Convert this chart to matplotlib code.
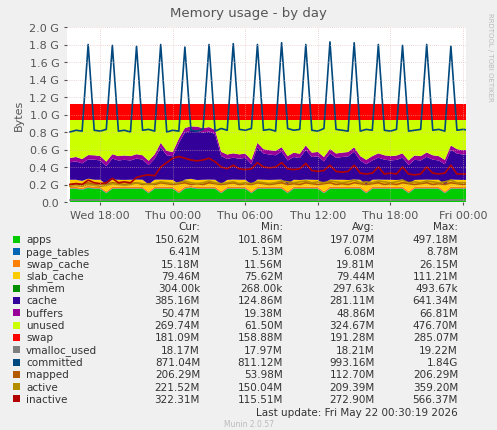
import matplotlib
matplotlib.use("Agg")
import matplotlib.pyplot as plt
import matplotlib.dates as mdates
import numpy as np
import datetime as dt

base = dt.datetime(2026, 5, 20, 15, 30)
times = [base + dt.timedelta(minutes=30 * i) for i in range(67)]

committed = [0.80,0.82,0.81,1.80, 0.82,0.81,0.83,1.79, 0.81,0.82,0.80,1.78, 0.82,0.83,0.81,1.80,
             0.80,0.82,0.81,1.77, 0.82,0.81,0.83,1.80, 0.81,0.84,0.82,1.81, 0.83,0.82,0.84,1.80,
             0.82,0.83,0.81,1.82, 0.84,0.82,0.83,1.80, 0.82,0.81,0.84,1.83, 0.83,0.82,0.81,1.82,
             0.81,0.83,0.82,1.80, 0.82,0.81,0.83,1.79, 0.81,0.82,0.83,1.80, 0.82,0.83,0.81,1.78,
             0.82,0.83,0.82]
apps = [0.15,0.15,0.14,0.16, 0.15,0.15,0.10,0.15, 0.15,0.15,0.15,0.15, 0.15,0.10,0.15,0.15,
        0.15,0.15,0.10,0.15, 0.16,0.15,0.15,0.15, 0.15,0.10,0.15,0.15, 0.15,0.15,0.10,0.15,
        0.15,0.15,0.15,0.15, 0.10,0.15,0.15,0.15, 0.15,0.15,0.10,0.15, 0.15,0.15,0.15,0.15,
        0.15,0.10,0.15,0.15, 0.15,0.15,0.15,0.15, 0.10,0.15,0.15,0.15, 0.15,0.15,0.10,0.15,
        0.15,0.15,0.15]
page_tables = [0.006] * 67
swap_cache = [0.018,0.018,0.015,0.020, 0.018,0.018,0.015,0.020, 0.018,0.016,0.018,0.020, 0.018,0.015,0.018,0.020,
              0.018,0.016,0.018,0.020, 0.018,0.015,0.018,0.020, 0.018,0.018,0.016,0.020, 0.018,0.018,0.015,0.020,
              0.018,0.016,0.018,0.020, 0.018,0.018,0.015,0.020, 0.018,0.016,0.018,0.020, 0.018,0.018,0.015,0.020,
              0.018,0.016,0.018,0.020, 0.018,0.018,0.015,0.020, 0.018,0.016,0.018,0.020, 0.018,0.018,0.015,0.020,
              0.018,0.016,0.015]
slab_cache = [0.08] * 67
shmem = [0.0003] * 67
cache = [0.20,0.21,0.20,0.22, 0.23,0.22,0.21,0.24, 0.22,0.23,0.22,0.24, 0.23,0.22,0.24,0.37,
         0.28,0.27,0.47,0.54, 0.55,0.56,0.54,0.55, 0.52,0.32,0.24,0.25, 0.24,0.25,0.23,0.37,
         0.30,0.29,0.28,0.32, 0.27,0.26,0.25,0.34, 0.26,0.27,0.26,0.30, 0.25,0.26,0.27,0.32,
         0.22,0.23,0.22,0.25, 0.23,0.22,0.23,0.25, 0.22,0.23,0.22,0.26, 0.23,0.22,0.23,0.34,
         0.30,0.29,0.30]
buffers = [0.05] * 67
swap = [0.18] * 67
total = 1.12
vmalloc_used = [0.018] * 67
mapped = [0.20,0.21,0.20,0.22, 0.20,0.21,0.20,0.22, 0.21,0.20,0.21,0.22, 0.20,0.21,0.20,0.22,
          0.21,0.20,0.21,0.22, 0.20,0.21,0.20,0.22, 0.21,0.20,0.21,0.22, 0.20,0.21,0.20,0.22,
          0.21,0.20,0.21,0.22, 0.20,0.21,0.20,0.22, 0.21,0.20,0.21,0.22, 0.20,0.21,0.20,0.22,
          0.21,0.20,0.21,0.22, 0.20,0.21,0.20,0.22, 0.21,0.20,0.21,0.22, 0.20,0.21,0.20,0.22,
          0.21,0.20,0.21]
active = [0.18,0.19,0.18,0.20, 0.19,0.18,0.19,0.21, 0.20,0.19,0.20,0.22, 0.21,0.20,0.21,0.23,
          0.22,0.21,0.22,0.24, 0.22,0.21,0.22,0.24, 0.22,0.21,0.22,0.23, 0.21,0.22,0.21,0.23,
          0.22,0.21,0.22,0.24, 0.23,0.22,0.23,0.24, 0.22,0.23,0.22,0.24, 0.23,0.22,0.23,0.25,
          0.22,0.23,0.22,0.24, 0.23,0.22,0.23,0.25, 0.22,0.23,0.22,0.24, 0.23,0.22,0.23,0.25,
          0.22,0.22,0.22]
inactive = [0.20,0.21,0.20,0.25, 0.22,0.21,0.22,0.27, 0.22,0.23,0.22,0.28, 0.30,0.31,0.30,0.40,
            0.45,0.50,0.52,0.50, 0.48,0.47,0.48,0.50, 0.46,0.40,0.38,0.42, 0.38,0.37,0.38,0.45,
            0.40,0.39,0.40,0.45, 0.38,0.37,0.38,0.44, 0.36,0.35,0.36,0.42, 0.35,0.34,0.35,0.42,
            0.33,0.32,0.33,0.40, 0.32,0.33,0.32,0.40, 0.32,0.31,0.32,0.40, 0.33,0.32,0.33,0.42,
            0.32,0.32,0.32]

used = [a+b+c+d+e+f+g for a,b,c,d,e,f,g in zip(apps,page_tables,swap_cache,slab_cache,shmem,cache,buffers)]
unused = [total - s - u for s, u in zip(swap, used)]

stack_names = ["apps","page_tables","swap_cache","slab_cache","shmem","cache","buffers","unused","swap"]
stack_vals = [apps,page_tables,swap_cache,slab_cache,shmem,cache,buffers,unused,swap]
stack_cols = ["#00CC00","#0066B3","#FF8000","#FFCC00","#008F00","#330099","#990099","#CCFF00","#FF0000"]
line_names = ["vmalloc_used","committed","mapped","active","inactive"]
line_vals = [vmalloc_used,committed,mapped,active,inactive]
line_cols = ["#808080","#00487D","#B35A00","#B38F00","#B30000"]

legend_rows = [
 ("apps","150.62M","101.86M","197.07M","497.18M"),
 ("page_tables","6.41M","5.13M","6.08M","8.78M"),
 ("swap_cache","15.18M","11.56M","19.81M","26.15M"),
 ("slab_cache","79.46M","75.62M","79.44M","111.21M"),
 ("shmem","304.00k","268.00k","297.63k","493.67k"),
 ("cache","385.16M","124.86M","281.11M","641.34M"),
 ("buffers","50.47M","19.38M","48.86M","66.81M"),
 ("unused","269.74M","61.50M","324.67M","476.70M"),
 ("swap","181.09M","158.88M","191.28M","285.07M"),
 ("vmalloc_used","18.17M","17.97M","18.21M","19.22M"),
 ("committed","871.04M","811.12M","993.16M","1.84G"),
 ("mapped","206.29M","53.98M","112.70M","206.29M"),
 ("active","221.52M","150.04M","209.39M","359.20M"),
 ("inactive","322.31M","115.51M","272.90M","566.37M"),
]

W, H = 497, 431
fig = plt.figure(figsize=(W/100, H/100), dpi=100, facecolor="#F0F0F0")
ax = fig.add_axes([67/W, 1-203/H, (466-67)/W, (203-28)/H], facecolor="white")
ax.stackplot(times, *stack_vals, colors=stack_cols, linewidth=0)
for v, c in zip(line_vals, line_cols):
    ax.plot(times, v, color=c, lw=1.2)
ax.set_ylim(0, 2.0)
ax.set_xlim(times[0] - dt.timedelta(minutes=15), dt.datetime(2026,5,22,0,15))
ax.set_yticks(np.arange(0, 2.01, 0.2))
ax.set_yticklabels(["0.0" if y == 0 else f"{y:.1f} G" for y in np.arange(0, 2.01, 0.2)])
ax.xaxis.set_major_locator(mdates.HourLocator(byhour=[0,6,12,18]))
ax.xaxis.set_major_formatter(mdates.DateFormatter("%a %H:%M"))
ax.grid(True, color="#E0B0B0", lw=0.5, ls=(0,(1,2)))
ax.set_axisbelow(False)
ax.tick_params(labelsize=8, colors="#555555", length=2)
for s in ax.spines.values():
    s.set_visible(False)
ax.set_ylabel("Bytes", fontsize=8, color="#555555")
fig.text(0.5, 1-14/H, "Memory usage - by day", ha="center", va="center", fontsize=9.5, color="#555555")
fig.text(490/W, 0.97, "RRDTOOL / TOBI OETIKER", rotation=270, fontsize=5, color="#BBBBBB", va="top", ha="center")

fs = 7.5
y0 = 227
for x, h in zip([200, 283, 375, 458], ["Cur:", "Min:", "Avg:", "Max:"]):
    fig.text(x/W, 1-y0/H, h, ha="right", va="center", fontsize=fs, color="#333333")
cols = stack_cols + line_cols
for i, row in enumerate(legend_rows):
    y = 240 + i*12.3
    fig.patches.append(plt.Rectangle((13/W, 1-(y+3.5)/H), 7/W, 7/H, transform=fig.transFigure,
                                     facecolor=cols[i], edgecolor="none"))
    fig.text(26/W, 1-y/H, row[0], va="center", fontsize=fs, color="#333333")
    for x, val in zip([200, 283, 375, 458], row[1:]):
        fig.text(x/W, 1-y/H, val, ha="right", va="center", fontsize=fs, color="#333333")
fig.text(458/W, 1-413/H, "Last update: Fri May 22 00:30:19 2026", ha="right", va="center", fontsize=fs, color="#333333")
fig.text(0.5, 1-425/H, "Munin 2.0.57", ha="center", va="center", fontsize=5.5, color="#BBBBBB")
fig.savefig("out.png", dpi=100, facecolor=fig.get_facecolor())
